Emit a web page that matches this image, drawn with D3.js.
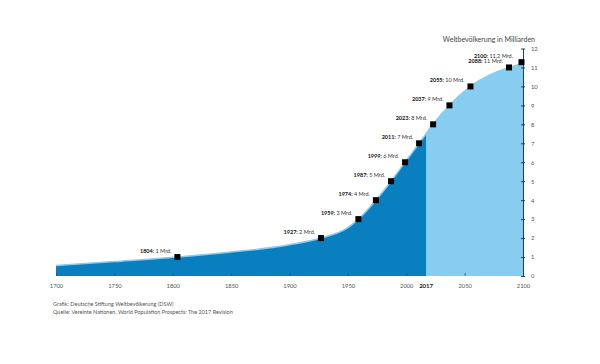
<html>
<head>
    <script src="https://d3js.org/d3.v7.min.js"></script>
    <style>
        body { margin: 0; background: #fff; }
        text { font-family: Lato, "Open Sans", sans-serif; }
    </style>
</head>
<body>
    <svg id="s" width="600" height="364"></svg>
    <script>
        // curve of world population (billions)
        const curveYears  = [1700, 1750, 1804, 1850, 1900, 1927, 1950, 1959, 1974, 1987, 1999, 2011, 2023, 2037, 2055, 2088, 2100]
        const curveValues = [0.55, 0.76, 1.0, 1.26, 1.65, 2.0, 2.55, 3.0, 4.0, 5.0, 6.0, 7.0, 8.0, 9.0, 10.0, 11.0, 11.2]

        // milestone markers
        const markYears  = [1804, 1927, 1959, 1974, 1987, 1999, 2011, 2023, 2037, 2055, 2088, 2100]
        const markValues = [1, 2, 3, 4, 5, 6, 7, 8, 9, 10, 11, 11.2]
        const markLabels = ["1 Mrd.", "2 Mrd.", "3 Mrd.", "4 Mrd.", "5 Mrd.", "6 Mrd.", "7 Mrd.", "8 Mrd.", "9 Mrd.", "10 Mrd.", "11 Mrd.", "11,2 Mrd."]

        const xTicks = [1700, 1750, 1800, 1850, 1900, 1950, 2000, 2050, 2100]
        const yTicks = [0, 1, 2, 3, 4, 5, 6, 7, 8, 9, 10, 11, 12]
        const splitYear = 2017

        const DARK = "#0a7fbf"
        const LIGHT = "#87cdf1"

        const svg = d3.select("svg")

        const x = d3.scaleLinear().domain([1700, 2100]).range([56, 523])
        const y = d3.scaleLinear().domain([0, 12]).range([276, 48.5])

        const data = curveYears.map((yr, i) => ({ year: yr, value: curveValues[i] }))

        const area = d3.area()
            .x(d => x(d.year))
            .y0(y(0))
            .y1(d => y(d.value))
            .curve(d3.curveMonotoneX)

        // clip for the historical part
        svg.append("clipPath").attr("id", "past")
            .append("rect")
            .attr("x", x(1700)).attr("y", 0)
            .attr("width", x(splitYear) - x(1700)).attr("height", 364)

        svg.append("path")
            .datum(data)
            .attr("d", area)
            .attr("fill", LIGHT)

        svg.append("path")
            .datum(data)
            .attr("d", area)
            .attr("fill", DARK)
            .attr("clip-path", "url(#past)")

        // thin light edge along the curve
        svg.append("path")
            .datum(data)
            .attr("d", d3.line().x(d => x(d.year)).y(d => y(d.value)).curve(d3.curveMonotoneX))
            .attr("fill", "none")
            .attr("stroke", LIGHT)
            .attr("stroke-width", 1.5)

        // x axis
        const xAxis = svg.append("g")
            .attr("transform", `translate(0, ${y(0)})`)
            .call(d3.axisBottom(x).tickValues(xTicks).tickFormat(d3.format("d")).tickSize(-3).tickPadding(8))
        xAxis.select(".domain").remove()
        xAxis.selectAll(".tick line").attr("stroke", "#0b5e8e").attr("stroke-width", 0.8)
        xAxis.selectAll("text").attr("fill", "#555").attr("font-size", "5.8px")

        svg.append("text")
            .attr("x", x(splitYear))
            .attr("y", y(0) + 11.5)
            .attr("text-anchor", "middle")
            .attr("font-size", "6px")
            .attr("font-weight", "bold")
            .attr("fill", "#222")
            .text(splitYear)

        // y axis on the right
        const yAxis = svg.append("g")
            .attr("transform", `translate(${x(2100)}, 0)`)
            .call(d3.axisRight(y).tickValues(yTicks).tickSize(2).tickSizeOuter(0).tickPadding(6))
        yAxis.select(".domain").attr("stroke", "#1d3f66").attr("stroke-width", 1)
        yAxis.selectAll(".tick line").attr("stroke", "#1d3f66").attr("x1", -2)
        yAxis.selectAll("text").attr("fill", "#555").attr("font-size", "5.8px")

        svg.append("text")
            .attr("x", 535)
            .attr("y", 42)
            .attr("text-anchor", "end")
            .attr("font-size", "7px")
            .attr("fill", "#444")
            .text("Weltbevölkerung in Milliarden")

        // markers
        const marks = markYears.map((yr, i) => ({ year: yr, value: markValues[i], label: markLabels[i] }))
        const last = marks.length - 1

        svg.selectAll("rect.mark")
            .data(marks)
            .enter().append("rect")
            .attr("class", "mark")
            .attr("x", (d, i) => x(d.year) - (i === last ? 4.5 : 3))
            .attr("y", (d, i) => y(d.value) - (i === last ? 4.5 : 3))
            .attr("width", 6)
            .attr("height", 6)
            .attr("fill", "#000")

        // labels sit up-left of their marker; the last one is lifted to clear 2088
        const labels = svg.selectAll("text.lbl")
            .data(marks)
            .enter().append("text")
            .attr("class", "lbl")
            .attr("x", (d, i) => x(d.year) - (i === last ? 10 : 6))
            .attr("y", (d, i) => y(d.value) - (i === last ? 6 : 4.5))
            .attr("text-anchor", "end")
            .attr("font-size", "5.5px")
            .attr("fill", "#333")
        labels.append("tspan").attr("font-weight", "bold").attr("fill", "#111").text(d => d.year + ": ")
        labels.append("tspan").text(d => d.label)

        // source
        svg.append("text")
            .attr("x", 53).attr("y", 306)
            .attr("font-size", "5.5px").attr("fill", "#555")
            .text("Grafik: Deutsche Stiftung Weltbevölkerung (DSW)")
        svg.append("text")
            .attr("x", 53).attr("y", 314)
            .attr("font-size", "5.5px").attr("fill", "#555")
            .text("Quelle: Vereinte Nationen, World Population Prospects: The 2017 Revision")
    </script>
</body>
</html>
